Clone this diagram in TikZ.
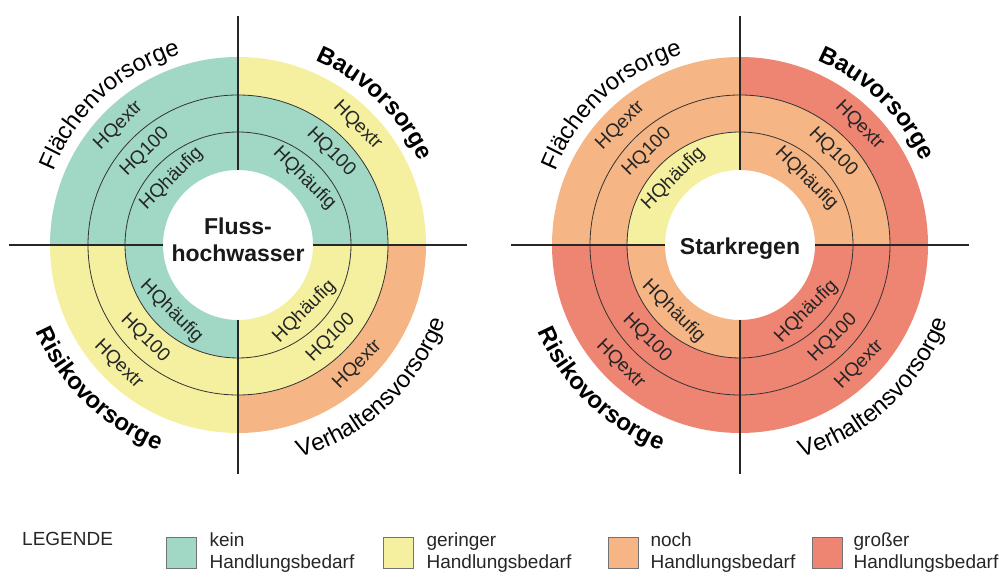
\documentclass[tikz,border=0pt]{standalone}
\usepackage{fontspec}
\setmainfont{Liberation Sans}
\usepackage{xcolor}
\usetikzlibrary{positioning,decorations.text}

\definecolor{kein}{HTML}{A0D8C5}
\definecolor{gering}{HTML}{F5F0A0}
\definecolor{noch}{HTML}{F5B584}
\definecolor{gross}{HTML}{EE8472}
\newcommand{\lblfont}{\fontsize{24}{28}\selectfont}

\begin{document}
\begin{tikzpicture}[
  x=1pt, y=1pt,
  ringlbl/.style={font=\fontsize{19}{22}\selectfont, text=black!85, inner sep=0pt},
  hub/.style={font=\fontsize{23}{27}\selectfont\bfseries, align=center, inner sep=0pt, text=black!90},
  axis/.style={line width=1.1pt, black!85},
  ringline/.style={line width=0.8pt, black!80},
  outerlbl/.style={decorate, decoration={text along path, text align=center, text={#1}}},
  legbox/.style={draw=black!55, line width=0.8pt, minimum width=30pt, minimum height=31pt, inner sep=0pt},
  legtxt/.style={font=\fontsize{19}{22}\selectfont, align=left, inner sep=0pt, text=black!85},
]
\useasboundingbox (0,0) rectangle (999,572);
% sectors, Flusshochwasser
\begin{scope}[shift={(238,327)}]
\foreach \a/\ci/\cm/\co in {0/kein/kein/gering, 90/kein/kein/kein, 180/kein/gering/gering, 270/gering/gering/noch}{
  \foreach \ri/\ro/\c in {75/113/\ci, 113/150/\cm, 150/188/\co}
    \fill[\c] (\a:\ri pt) arc[start angle=\a, delta angle=90, radius=\ri pt]
      -- ({\a+90}:\ro pt) arc[start angle={\a+90}, delta angle=-90, radius=\ro pt] -- cycle;
}
\end{scope}
% sectors, Starkregen
\begin{scope}[shift={(740,327)}]
\foreach \a/\ci/\cm/\co in {0/noch/noch/gross, 90/gering/noch/noch, 180/noch/gross/gross, 270/gross/gross/gross}{
  \foreach \ri/\ro/\c in {75/113/\ci, 113/150/\cm, 150/188/\co}
    \fill[\c] (\a:\ri pt) arc[start angle=\a, delta angle=90, radius=\ri pt]
      -- ({\a+90}:\ro pt) arc[start angle={\a+90}, delta angle=-90, radius=\ro pt] -- cycle;
}
\end{scope}
% rings, axes and labels of both diagrams
\foreach \cx/\p in {238/f, 740/s}{
  \begin{scope}[shift={(\cx,327)}]
    \draw[ringline] (0,0) circle[radius=113pt];
    \draw[ringline] (0,0) circle[radius=150pt];
    \foreach \d in {0,90,180,270}
      \draw[axis] (\d:75pt) -- (\d:229pt);
    \foreach \th/\rot in {45/-45, 135/45, 225/-45, 315/45}
      \foreach \r/\t/\k in {94/HQhäufig/i, 131.5/HQ100/m, 169/HQextr/o}
        \node[ringlbl, rotate=\rot] (\p\k\th) at (\th:\r pt) {\t};
    \path[outerlbl={|\lblfont|Flächenvorsorge}] (177.5:199pt) arc[start angle=177.5, end angle=87.5, radius=199pt];
    \path[outerlbl={|\lblfont\bfseries|Bauvorsorge}] (91:200pt) arc[start angle=91, end angle=1, radius=200pt];
    \path[outerlbl={|\lblfont\bfseries|Risikovorsorge}] (181:220pt) arc[start angle=181, end angle=271, radius=220pt];
    \path[outerlbl={|\lblfont|Verhaltensvorsorge}] (268:221pt) arc[start angle=268, end angle=358, radius=221pt];
  \end{scope}
}
\node[hub] (fluss) at (238,332) {Fluss-\\hochwasser};
\node[hub, anchor=base] (stark) at (740,317) {Starkregen};
% legend
\node[legtxt, anchor=west] (legende) at (22,33.3) {LEGENDE};
\node[legbox, fill=kein] (bk) at (181,19.5) {};
\node[legtxt, right=13pt of bk] (tk) {kein\\Handlungsbedarf};
\node[legbox, fill=gering] (bg) at (398,19.5) {};
\node[legtxt, right=13pt of bg] (tg) {geringer\\Handlungsbedarf};
\node[legbox, fill=noch] (bn) at (623,19.5) {};
\node[legtxt, right=12pt of bn] (tn) {noch\\Handlungsbedarf};
\node[legbox, fill=gross] (bgr) at (827,19.5) {};
\node[legtxt, right=11pt of bgr] (tgr) {großer\\Handlungsbedarf};
\end{tikzpicture}
\end{document}
